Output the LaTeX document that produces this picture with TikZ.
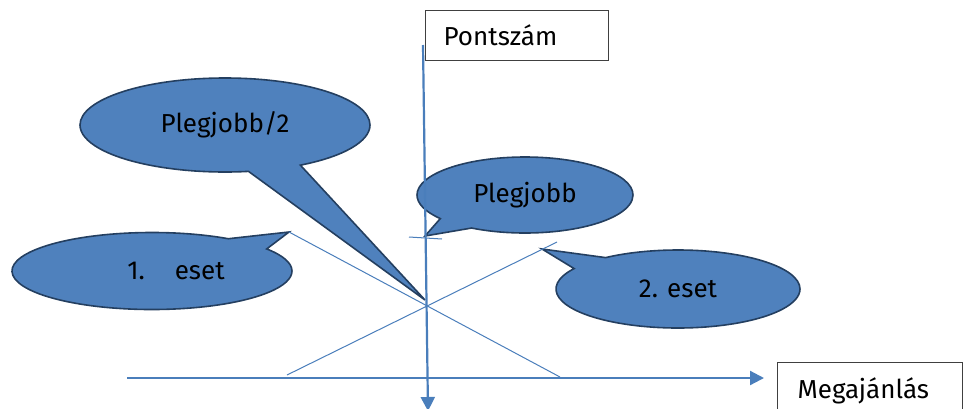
\documentclass[tikz,border=0pt]{standalone}
\usepackage{fontspec}
\setmainfont{Fira Sans}
\usetikzlibrary{arrows.meta,shapes.callouts}
\definecolor{axisblue}{HTML}{4A7EBB}
\definecolor{bubbleblue}{HTML}{4F81BD}
\definecolor{bubbleedge}{HTML}{243F60}

\begin{document}
\begin{tikzpicture}[x=0.5pt,y=-0.5pt,>={Triangle[length=7pt,width=7pt]},
  axis/.style={draw=axisblue,line width=1.1pt},
  thin line/.style={draw=axisblue,line width=0.5pt},
  label box/.style={rectangle,draw=black!75,line width=0.6pt,anchor=north west,
    inner sep=0pt,font=\fontsize{13}{15}\selectfont},
  bubble/.style={ellipse callout,fill=bubbleblue,draw=bubbleedge,line width=0.8pt,
    inner sep=0pt,callout pointer arc=22,font=\fontsize{13}{15}\selectfont}]
\useasboundingbox (0,0) rectangle (968,408);
% tips and line ends
\coordinate (halftip) at (425,300);
\coordinate (besttip) at (425,236);
\coordinate (a1) at (289,232);
\coordinate (a2) at (560,377);
\coordinate (b1) at (287,375);
\coordinate (b2) at (557,242);
\coordinate (t1) at (409,237);
\coordinate (t2) at (442,239);
\coordinate (case2tip) at (542,249);
\coordinate (ytop) at (423,45);
\coordinate (ybot) at (428,411);
\coordinate (xleft) at (127,378);
\coordinate (xright) at (764,378);

% callouts
\node[bubble,minimum width=145pt,minimum height=47pt,
  callout absolute pointer={(halftip)}] (half) at (225,125) {Plegjobb/2};
\node[bubble,minimum width=108pt,minimum height=38pt,
  callout absolute pointer={(besttip)}] (best) at (525,195) {Plegjobb};
\node[bubble,minimum width=140pt,minimum height=38.5pt,
  callout absolute pointer={(a1)}] (case1) at (152,271) {\hspace*{24pt}1.\hspace{15pt}eset};
\node[bubble,minimum width=122pt,minimum height=39pt,
  callout absolute pointer={(case2tip)}] (case2) at (678,289) {2. eset};

% axis labels
\node[label box,minimum height=25pt] (ylab) at (425,10)
  {\makebox[91.5pt][l]{\hspace{9pt}Pontszám}};
\node[label box,text height=18pt,text depth=12pt] (xlab) at (777,362)
  {\makebox[92.5pt][l]{\hspace{10pt}Megajánlás}};

% lines
\draw[thin line] (a1) -- (a2);
\draw[thin line] (b1) -- (b2);
\draw[thin line] (t1) -- (t2);
\draw[axis,->] (ytop) -- (ybot);
\draw[axis,->] (xleft) -- (xright);
\end{tikzpicture}
\end{document}
